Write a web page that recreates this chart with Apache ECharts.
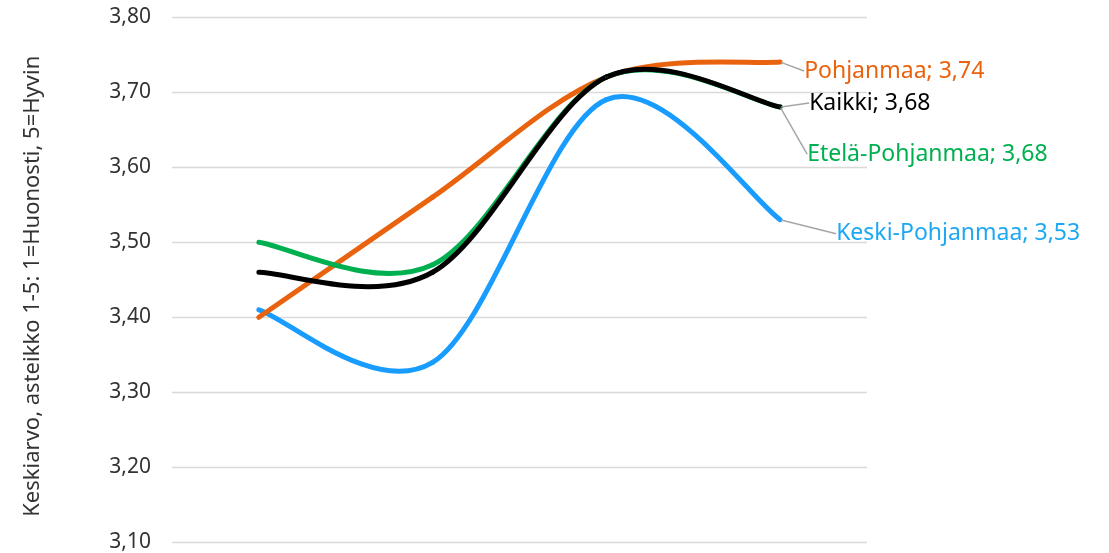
<!DOCTYPE html>
<html>
<head>
<meta charset="utf-8">
<script src="https://cdn.jsdelivr.net/npm/echarts@6/dist/echarts.min.js"></script>
<style>
  html, body { margin: 0; padding: 0; background: #fff; overflow: hidden; }
  #chart_1 { width: 1109px; height: 553px; }
</style>
</head>
<body>
<div id="chart_1"></div>
<script>
// kategoriat (x-akselin nimet jäävät kuvan ulkopuolelle)
var categories = ['1', '2', '3', '4'];
var names = ['Keski-Pohjanmaa', 'Pohjanmaa', 'Etelä-Pohjanmaa', 'Kaikki'];
var keskiPohjanmaa = [3.41, 3.34, 3.69, 3.53];
var pohjanmaa = [3.40, 3.56, 3.72, 3.74];
var etelaPohjanmaa = [3.50, 3.47, 3.72, 3.68];
var kaikki = [3.46, 3.46, 3.72, 3.68];
var yTicks = [3.1, 3.2, 3.3, 3.4, 3.5, 3.6, 3.7, 3.8];

var lineColors = ['#189CFF', '#E9620E', '#00B050', '#000000'];
var labelColors = ['#1EA8F2', '#E9620E', '#00B050', '#000000'];
// label siirto viimeisestä pisteestä
var labelShift = [[50, 14], [18, 9], [21, 47], [23, -4]];

function fmt(v) {
    return v.toFixed(2).replace('.', ',');
}

// Excelin tyylinen pehmennys (catmull-rom, 1/6)
function makeCurve(idx, values) {
    return {
        name: names[idx],
        type: 'custom',
        data: values.map(function (v, i) { return [i, v]; }),
        encode: { x: 0, y: 1 },
        silent: true,
        renderItem: function (params, api) {
            var i = params.dataIndexInside;
            var n = params.dataInsideLength;
            if (i >= n - 1) return null;
            var pt = function (k) {
                k = Math.max(0, Math.min(n - 1, k));
                return api.coord([api.value(0, k), api.value(1, k)]);
            };
            var p0 = pt(i - 1), p1 = pt(i), p2 = pt(i + 1), p3 = pt(i + 2);
            return {
                type: 'bezierCurve',
                shape: {
                    x1: p1[0], y1: p1[1],
                    x2: p2[0], y2: p2[1],
                    cpx1: p1[0] + (p2[0] - p0[0]) / 6,
                    cpy1: p1[1] + (p2[1] - p0[1]) / 6,
                    cpx2: p2[0] - (p3[0] - p1[0]) / 6,
                    cpy2: p2[1] - (p3[1] - p1[1]) / 6
                },
                style: {
                    stroke: lineColors[idx],
                    lineWidth: 5,
                    fill: 'none',
                    lineCap: 'round'
                }
            };
        }
    };
}

// näkymätön viiva vain loppulabelia ja ohjaviivaa varten
function makeLabels(idx, values) {
    var data = values.map(function (v, i) {
        if (i === values.length - 1) {
            return { value: v, label: { show: true } };
        }
        return v;
    });
    return {
        name: names[idx],
        type: 'line',
        symbol: 'circle',
        symbolSize: 2,
        showSymbol: true,
        data: data,
        lineStyle: { opacity: 0 },
        itemStyle: { color: lineColors[idx] },
        label: {
            show: false,
            position: 'right',
            distance: 5,
            fontFamily: 'Noto Sans',
            fontSize: 23,
            color: labelColors[idx],
            formatter: function (p) {
                return p.seriesName + '; ' + fmt(p.value);
            }
        },
        labelLine: {
            show: true,
            length2: 0,
            lineStyle: { color: '#A6A6A6', width: 1.5 }
        },
        labelLayout: { dx: labelShift[idx][0], dy: labelShift[idx][1] },
        emphasis: { disabled: true }
    };
}

var option1 = {
    animation: false,
    backgroundColor: '#fff',
    grid: {
        left: 172,
        right: 242,
        top: 17,
        bottom: 8,
        containLabel: false
    },
    xAxis: {
        type: 'category',
        data: categories,
        boundaryGap: true,
        axisLine: { show: false },
        axisTick: { show: false },
        axisLabel: { show: false }
    },
    yAxis: {
        type: 'value',
        min: yTicks[0],
        max: yTicks[yTicks.length - 1],
        interval: 0.1,
        name: 'Keskiarvo, asteikko 1-5: 1=Huonosti, 5=Hyvin',
        nameLocation: 'middle',
        nameGap: 128,
        nameTextStyle: {
            fontFamily: 'Noto Sans',
            fontSize: 22,
            color: '#333',
            padding: [0, 13, 0, 0]
        },
        axisLine: { show: false },
        axisTick: { show: false },
        axisLabel: {
            margin: 21,
            fontFamily: 'Noto Sans',
            fontSize: 21,
            color: '#333',
            formatter: function (v) { return fmt(v); }
        },
        splitLine: { lineStyle: { color: '#D9D9D9', width: 1.3 } }
    },
    series: [
        makeCurve(0, keskiPohjanmaa),
        makeCurve(1, pohjanmaa),
        makeCurve(2, etelaPohjanmaa),
        makeCurve(3, kaikki),
        makeLabels(0, keskiPohjanmaa),
        makeLabels(1, pohjanmaa),
        makeLabels(2, etelaPohjanmaa),
        makeLabels(3, kaikki)
    ]
};

var myChart1 = echarts.init(document.getElementById('chart_1'));
myChart1.setOption(option1);
</script>
</body>
</html>
